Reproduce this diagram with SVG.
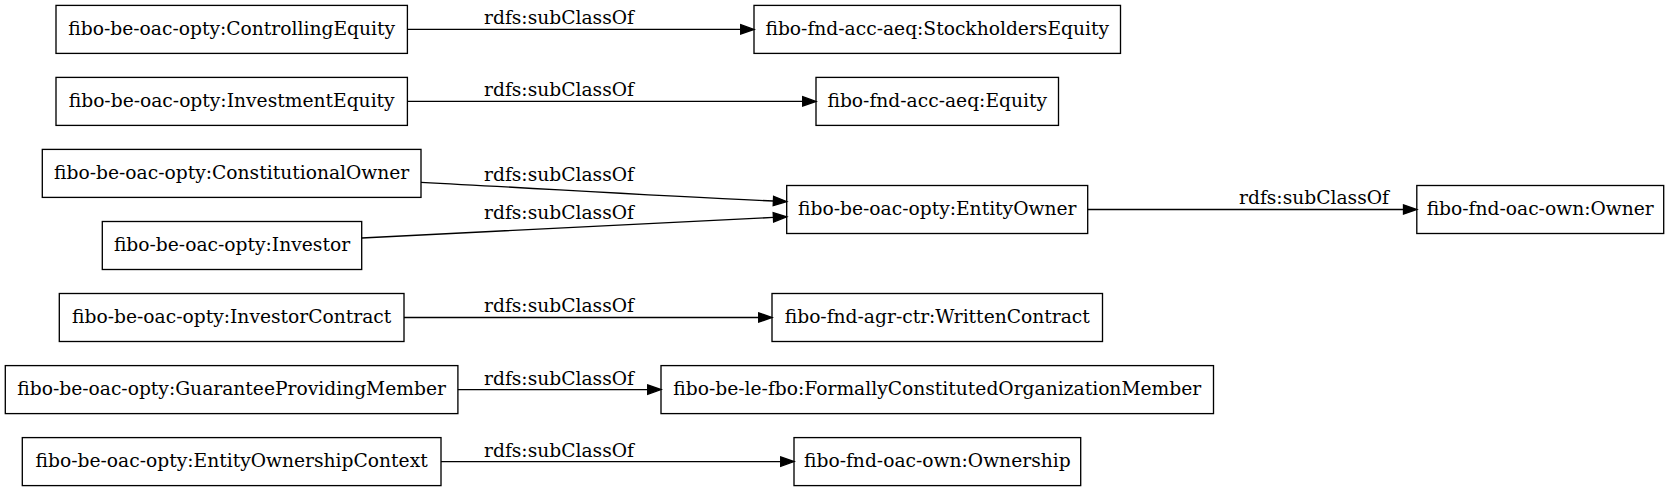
<svg xmlns="http://www.w3.org/2000/svg" width="1669" height="491" viewBox="0 0 1669 491">
<style>
.n rect{fill:none;stroke:#000;stroke-width:1.33}
.n text,.lbl{font-family:"DejaVu Serif",serif;font-size:18.68px;fill:#000;text-anchor:middle}
.e{fill:none;stroke:#000;stroke-width:1.33;marker-end:url(#ah)}
</style>
<defs>
<marker id="ah" markerUnits="userSpaceOnUse" viewBox="0 0 13.3 9.34" refX="0" refY="4.67" markerWidth="13.3" markerHeight="9.34" orient="auto" overflow="visible">
<path d="M0,0 L13.3,4.67 L0,9.34 Z" fill="#000" stroke="#000" stroke-width="1.33"/>
</marker>
</defs>
<rect width="1669" height="491" fill="#fff"/>
<g id="edges">
<path class="e" d="M407.3,29.4 L740.7,29.4"/>
<path class="e" d="M407.3,101.4 L802.7,101.4"/>
<path class="e" d="M421,182.3 C560,189.6 650,195.6 773.4,201"/>
<path class="e" d="M361.7,238 C500,231 650,223.5 773.4,217.4"/>
<path class="e" d="M1087.7,209.5 L1403.5,209.5"/>
<path class="e" d="M404,317.5 L758.7,317.5"/>
<path class="e" d="M457.9,389.6 L647.7,389.6"/>
<path class="e" d="M441,461.6 L780.7,461.6"/>
<text class="lbl" x="559" y="24.3">rdfs:subClassOf</text>
<text class="lbl" x="559" y="96.3">rdfs:subClassOf</text>
<text class="lbl" x="559" y="181">rdfs:subClassOf</text>
<text class="lbl" x="559" y="219">rdfs:subClassOf</text>
<text class="lbl" x="1314" y="204.4">rdfs:subClassOf</text>
<text class="lbl" x="559" y="312.4">rdfs:subClassOf</text>
<text class="lbl" x="559" y="384.5">rdfs:subClassOf</text>
<text class="lbl" x="559" y="456.5">rdfs:subClassOf</text>
</g>
<g id="ControllingEquity" class="n"><rect x="56" y="5.4" width="351.4" height="48"/><text x="231.7" y="35">fibo-be-oac-opty:ControllingEquity</text></g>
<g id="StockholdersEquity" class="n"><rect x="754" y="5.4" width="366.5" height="48"/><text x="937.25" y="35">fibo-fnd-acc-aeq:StockholdersEquity</text></g>
<g id="InvestmentEquity" class="n"><rect x="56" y="77.4" width="351.4" height="48"/><text x="231.7" y="107">fibo-be-oac-opty:InvestmentEquity</text></g>
<g id="Equity" class="n"><rect x="816" y="77.4" width="242.5" height="48"/><text x="937.25" y="107">fibo-fnd-acc-aeq:Equity</text></g>
<g id="ConstitutionalOwner" class="n"><rect x="42.3" y="149.4" width="378.7" height="48"/><text x="231.7" y="179">fibo-be-oac-opty:ConstitutionalOwner</text></g>
<g id="EntityOwner" class="n"><rect x="786.7" y="185.5" width="301" height="48"/><text x="937.25" y="215.1">fibo-be-oac-opty:EntityOwner</text></g>
<g id="Owner" class="n"><rect x="1416.8" y="185.5" width="246.9" height="48"/><text x="1540.2" y="215.1">fibo-fnd-oac-own:Owner</text></g>
<g id="Investor" class="n"><rect x="102.3" y="221.5" width="259.4" height="48"/><text x="232" y="251.1">fibo-be-oac-opty:Investor</text></g>
<g id="InvestorContract" class="n"><rect x="59.3" y="293.5" width="344.7" height="48"/><text x="231.7" y="323.1">fibo-be-oac-opty:InvestorContract</text></g>
<g id="WrittenContract" class="n"><rect x="772" y="293.5" width="330.5" height="48"/><text x="937.25" y="323.1">fibo-fnd-agr-ctr:WrittenContract</text></g>
<g id="GuaranteeProvidingMember" class="n"><rect x="5.3" y="365.6" width="452.6" height="48"/><text x="231.6" y="395.2">fibo-be-oac-opty:GuaranteeProvidingMember</text></g>
<g id="FormallyConstitutedOrganizationMember" class="n"><rect x="661" y="365.6" width="552.5" height="48"/><text x="937.25" y="395.2">fibo-be-le-fbo:FormallyConstitutedOrganizationMember</text></g>
<g id="EntityOwnershipContext" class="n"><rect x="22.3" y="437.6" width="418.7" height="48"/><text x="231.65" y="467.2">fibo-be-oac-opty:EntityOwnershipContext</text></g>
<g id="Ownership" class="n"><rect x="794" y="437.6" width="286.7" height="48"/><text x="937.35" y="467.2">fibo-fnd-oac-own:Ownership</text></g>
</svg>
